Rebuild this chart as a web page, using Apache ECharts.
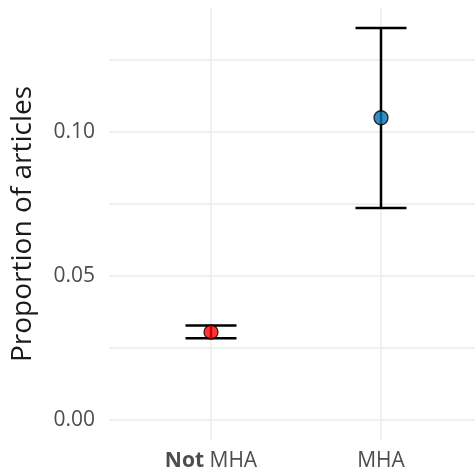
<!DOCTYPE html>
<html>
<head>
<meta charset="utf-8">
<script src="https://cdn.jsdelivr.net/npm/echarts@6/dist/echarts.min.js"></script>
<style>html,body{margin:0;padding:0;background:#fff;}#c{width:475px;height:473px;}</style>
</head>
<body>
<div id="c"></div>
<script>
var categories = ['Not MHA', 'MHA'];
var estimates = [0.0305, 0.1049];
var lowerCI = [0.0284, 0.0736];
var upperCI = [0.0328, 0.1361];
var yTicks = [0, 0.05, 0.10];
var yGrid = [0, 0.025, 0.05, 0.075, 0.10, 0.125];
var pointColors = ['#FF0000', '#0072B2'];

var chart = echarts.init(document.getElementById('c'), null, {renderer: 'canvas'});
var font = '"Open Sans"';
var xs = categories.map(function (c, i) { return i + 1; });

chart.setOption({
  animation: false,
  backgroundColor: '#ffffff',
  grid: {left: 109, right: -8, top: 8, bottom: 33, containLabel: false, outerBoundsMode: 'none'},
  xAxis: {
    type: 'value', min: 0.4, max: 2.6,
    axisLine: {show: false},
    axisTick: {show: false, customValues: xs},
    splitLine: {show: true, lineStyle: {color: '#EBEBEB', width: 1.5}},
    axisLabel: {
      customValues: xs, margin: 11, fontFamily: font, fontSize: 21, color: '#4D4D4D',
      formatter: function (v) {
        var name = categories[Math.round(v) - 1] || '';
        if (name.indexOf('Not ') === 0) return '{b|Not} ' + name.slice(4);
        return name;
      },
      rich: {b: {fontWeight: 'bold', fontFamily: font, fontSize: 21, color: '#4D4D4D'}}
    }
  },
  yAxis: {
    type: 'value', min: -0.00694, max: 0.143,
    name: 'Proportion of articles', nameLocation: 'middle', nameGap: 72, nameRotate: 90,
    nameTextStyle: {fontFamily: font, fontSize: 28, color: '#1a1a1a'},
    axisLine: {show: false},
    axisTick: {show: false, customValues: yGrid},
    splitLine: {show: true, lineStyle: {color: '#EBEBEB', width: 1.5}},
    axisLabel: {
      customValues: yTicks, margin: 14, fontFamily: font, fontSize: 21, color: '#4D4D4D',
      formatter: function (v) { return v.toFixed(2); }
    }
  },
  series: [
    {
      type: 'custom',
      renderItem: function (params, api) {
        var x = api.value(0), lo = api.value(1), hi = api.value(2);
        var w = 0.15;
        var pTop = api.coord([x, hi]), pBot = api.coord([x, lo]);
        var tl = api.coord([x - w, hi]), tr = api.coord([x + w, hi]);
        var bl = api.coord([x - w, lo]), br = api.coord([x + w, lo]);
        var st = {stroke: '#000', lineWidth: 2.5};
        return {type: 'group', children: [
          {type: 'line', shape: {x1: pTop[0], y1: pTop[1], x2: pBot[0], y2: pBot[1]}, style: st},
          {type: 'line', shape: {x1: tl[0], y1: tl[1], x2: tr[0], y2: tr[1]}, style: st},
          {type: 'line', shape: {x1: bl[0], y1: bl[1], x2: br[0], y2: br[1]}, style: st}
        ]};
      },
      data: xs.map(function (x, i) { return [x, lowerCI[i], upperCI[i]]; }),
      z: 2
    },
    {
      type: 'scatter',
      symbol: 'circle', symbolSize: 14,
      data: xs.map(function (x, i) {
        return {value: [x, estimates[i]], itemStyle: {color: pointColors[i], borderColor: '#000', borderWidth: 1.3}};
      }),
      z: 3
    }
  ]
});
</script>
</body>
</html>
